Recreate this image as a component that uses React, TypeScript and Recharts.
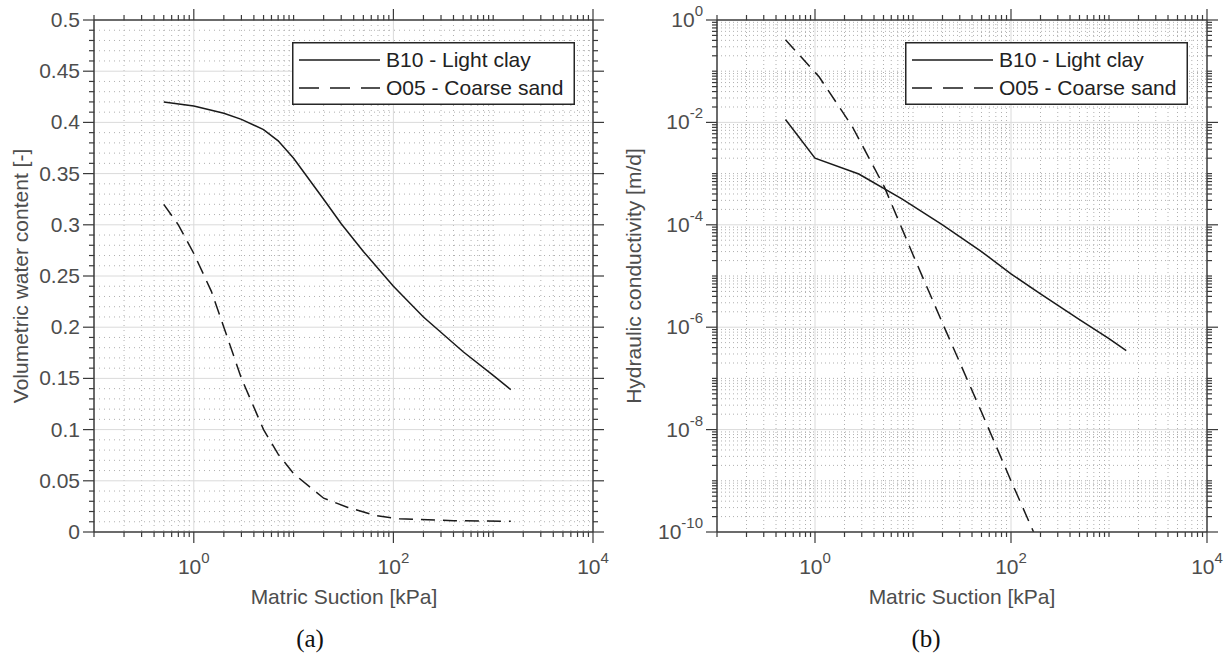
import React from 'react';
import { LineChart, Line, XAxis, YAxis, CartesianGrid, Legend } from 'recharts';

// ---------- data ----------
const seriesNames = ['B10 - Light clay', 'O05 - Coarse sand'];

// (a) water retention curves
const suctionClayWRC = [0.5, 1, 2, 3, 5, 7, 10, 20, 30, 50, 100, 200, 500, 1000, 1500];
const thetaClay = [0.42, 0.416, 0.409, 0.403, 0.393, 0.382, 0.365, 0.325, 0.301, 0.274, 0.24, 0.21, 0.176, 0.153, 0.139];
const suctionSandWRC = [0.5, 0.7, 1, 1.5, 2, 3, 5, 7, 10, 20, 35, 66, 114, 400, 1500];
const thetaSand = [0.32, 0.3, 0.272, 0.235, 0.2, 0.15, 0.1, 0.076, 0.057, 0.033, 0.024, 0.016, 0.013, 0.011, 0.0105];

// (b) hydraulic conductivity curves
const suctionClayK = [0.5, 1, 2.8, 7.7, 20, 50, 100, 200, 500, 1000, 1500];
const kClay = [1.14e-2, 2.0e-3, 9.8e-4, 3.2e-4, 1.0e-4, 3.0e-5, 1.1e-5, 4.5e-6, 1.4e-6, 6e-7, 3.5e-7];
const suctionSandK = [0.5, 1.1, 2.4, 5.1, 10, 20, 50, 100, 170];
const kSand = [0.41, 0.078, 0.0083, 5.5e-4, 2.6e-5, 1.2e-6, 2.2e-8, 1e-9, 1e-10];

// ticks
const xDecades = [0.1, 1, 10, 100, 1000, 10000];
const xLabelExponents = [0, 2, 4];
const leftYMajor = [0, 0.05, 0.1, 0.15, 0.2, 0.25, 0.3, 0.35, 0.4, 0.45, 0.5];
const leftYLabels = ['0', '0.05', '0.1', '0.15', '0.2', '0.25', '0.3', '0.35', '0.4', '0.45', '0.5'];
const rightYDecades = [1e-10, 1e-9, 1e-8, 1e-7, 1e-6, 1e-5, 1e-4, 1e-3, 1e-2, 1e-1, 1];
const rightYLabelExponents = [0, -2, -4, -6, -8, -10];

const xTitle = 'Matric Suction [kPa]';
const leftYTitle = 'Volumetric water content [-]';
const rightYTitle = 'Hydraulic conductivity [m/d]';

// ---------- derived tables ----------
const zip = (xs: number[], ys: number[]) => xs.map((x, i) => ({ x, y: ys[i] }));
const clayWRC = zip(suctionClayWRC, thetaClay);
const sandWRC = zip(suctionSandWRC, thetaSand);
const clayK = zip(suctionClayK, kClay);
const sandK = zip(suctionSandK, kSand);

const minorsOf = (decades: number[]) => {
  const out: number[] = [];
  decades.slice(0, -1).forEach((d) => {
    for (let m = 2; m <= 9; m++) out.push(Number((m * d).toPrecision(6)));
  });
  return out;
};
const xMinor = minorsOf(xDecades);
const xAllTicks = [...xDecades, ...xMinor].sort((a, b) => a - b);
const xMajorVals = xLabelExponents.map((e) => Math.pow(10, e));
const xGridMajor = [1, 100];
const xGridMinor = [...xMinor, 10, 1000];

const leftYMinor: number[] = [];
for (let i = 1; i < 50; i++) if (i % 5 !== 0) leftYMinor.push(i / 100);
const leftYAll = [...leftYMajor, ...leftYMinor].sort((a, b) => a - b);

const rightYMinor = minorsOf(rightYDecades);
const rightYAll = [...rightYDecades, ...rightYMinor].sort((a, b) => a - b);
const rightYMajorVals = rightYLabelExponents.map((e) => Math.pow(10, e));
const rightYGridMajor = [1e-2, 1e-4, 1e-6, 1e-8];
const rightYGridMinor = [...rightYMinor, 1e-1, 1e-3, 1e-5, 1e-7, 1e-9];

// ---------- style ----------
const FONT = '"Liberation Sans", Arial, Helvetica, sans-serif';
const AXIS = '#3a3a3a';
const LABEL = '#4d4d4d';
const LINE = '#1a1a1a';
const FS = 21;
const has = (arr: number[], v: number) => arr.some((a) => Math.abs(a - v) <= Math.abs(a) * 1e-7 + 1e-12);

// ---------- tick renderers ----------
const XTick = (dir: 1 | -1, labels: boolean) => (props: any) => {
  const { x, y, payload } = props;
  const v = payload.value;
  const major = has(xMajorVals, v);
  const len = major ? 11 : 5;
  return (
    <g>
      <line x1={x} y1={y} x2={x} y2={y + dir * len} stroke={AXIS} strokeWidth={1.2} />
      {labels && major && (
        <text x={x} y={y + 42} textAnchor="middle" fontSize={FS} fill={LABEL} fontFamily={FONT}>
          10<tspan dy={-11} fontSize={15}>{Math.round(Math.log10(v))}</tspan>
        </text>
      )}
    </g>
  );
};

const LinYTick = (dir: 1 | -1, labels: boolean) => (props: any) => {
  const { x, y, payload } = props;
  const v = payload.value;
  const idx = leftYMajor.findIndex((m) => Math.abs(m - v) < 1e-9);
  const major = idx >= 0;
  const len = major ? 11 : 5;
  return (
    <g>
      <line x1={x} y1={y} x2={x + dir * len} y2={y} stroke={AXIS} strokeWidth={1.2} />
      {labels && major && (
        <text x={x - 14} y={y + 7} textAnchor="end" fontSize={FS} fill={LABEL} fontFamily={FONT}>
          {leftYLabels[idx]}
        </text>
      )}
    </g>
  );
};

const LogYTick = (dir: 1 | -1, labels: boolean) => (props: any) => {
  const { x, y, payload } = props;
  const v = payload.value;
  const major = has(rightYMajorVals, v);
  const len = major ? 11 : 5;
  return (
    <g>
      <line x1={x} y1={y} x2={x + dir * len} y2={y} stroke={AXIS} strokeWidth={1.2} />
      {labels && major && (
        <text x={x - 14} y={y + 7} textAnchor="end" fontSize={FS} fill={LABEL} fontFamily={FONT}>
          10<tspan dy={-11} fontSize={15}>{String(Math.round(Math.log10(v)))}</tspan>
        </text>
      )}
    </g>
  );
};

// ---------- legend ----------
const LegendBox = () => {
  const w = 283;
  const h = 63;
  return (
    <svg width={w} height={h} style={{ display: 'block' }}>
      <rect x={0.75} y={0.75} width={w - 1.5} height={h - 1.5} fill="#fff" stroke="#262626" strokeWidth={1.5} />
      <line x1={7} x2={88} y1={18} y2={18} stroke={LINE} strokeWidth={1.5} />
      <line x1={7} x2={88} y1={46} y2={46} stroke={LINE} strokeWidth={1.5} strokeDasharray="20 11" />
      <text x={94} y={25} fontSize={FS} fill="#222" fontFamily={FONT}>{seriesNames[0]}</text>
      <text x={94} y={53} fontSize={FS} fill="#222" fontFamily={FONT}>{seriesNames[1]}</text>
    </svg>
  );
};

const W = 615;
const H = 655;
const axisLine = { stroke: AXIS, strokeWidth: 1.5 };

const LeftChart = () => (
  <LineChart width={W} height={H} margin={{ top: 19, left: 93, right: 21, bottom: 122 }}>
    <CartesianGrid horizontal vertical verticalValues={xGridMinor} horizontalValues={leftYMinor}
      stroke="#b0b0b0" strokeDasharray="1 4" />
    <CartesianGrid horizontal vertical verticalValues={xGridMajor} horizontalValues={leftYMajor.slice(1, -1)}
      stroke="#dadada" />
    <XAxis dataKey="x" type="number" scale="log" domain={[0.1, 10000]} allowDataOverflow ticks={xAllTicks}
      interval={0} height={1} tickSize={0} tickMargin={0} axisLine={axisLine}
      tickLine={false} tick={XTick(1, true)} />
    <XAxis xAxisId="top" orientation="top" dataKey="x" type="number" scale="log" domain={[0.1, 10000]}
      allowDataOverflow ticks={xAllTicks} interval={0} height={1} tickSize={0} tickMargin={0}
      axisLine={axisLine} tickLine={false} tick={XTick(-1, false)} />
    <YAxis type="number" domain={[0, 0.5]} allowDataOverflow ticks={leftYAll} interval={0} width={1}
      tickSize={0} tickMargin={0} axisLine={axisLine} tickLine={false}
      tick={LinYTick(-1, true)} />
    <YAxis yAxisId="right" orientation="right" type="number" domain={[0, 0.5]} allowDataOverflow ticks={leftYAll}
      interval={0} width={1} tickSize={0} tickMargin={0} axisLine={axisLine}
      tickLine={false} tick={LinYTick(1, false)} />
    <Line data={clayWRC} dataKey="y" name={seriesNames[0]} type="linear" stroke={LINE} strokeWidth={1.5}
      dot={false} isAnimationActive={false} />
    <Line data={sandWRC} dataKey="y" name={seriesNames[1]} type="linear" stroke={LINE} strokeWidth={1.5}
      strokeDasharray="14 8" dot={false} isAnimationActive={false} />
    <Legend layout="vertical" align="center" verticalAlign="middle" content={LegendBox}
      wrapperStyle={{ left: 292, top: 42, width: 283, height: 63 }} />
  </LineChart>
);

const RightChart = () => (
  <LineChart width={W} height={H} margin={{ top: 19, left: 101, right: 22, bottom: 122 }}>
    <CartesianGrid horizontal vertical verticalValues={xGridMinor} horizontalValues={rightYGridMinor}
      stroke="#b0b0b0" strokeDasharray="1 3" />
    <CartesianGrid horizontal vertical verticalValues={xGridMajor} horizontalValues={rightYGridMajor}
      stroke="#dadada" />
    <XAxis dataKey="x" type="number" scale="log" domain={[0.1, 10000]} allowDataOverflow ticks={xAllTicks}
      interval={0} height={1} tickSize={0} tickMargin={0} axisLine={axisLine}
      tickLine={false} tick={XTick(1, true)} />
    <XAxis xAxisId="top" orientation="top" dataKey="x" type="number" scale="log" domain={[0.1, 10000]}
      allowDataOverflow ticks={xAllTicks} interval={0} height={1} tickSize={0} tickMargin={0}
      axisLine={axisLine} tickLine={false} tick={XTick(-1, false)} />
    <YAxis type="number" scale="log" domain={[1e-10, 1]} allowDataOverflow ticks={rightYAll} interval={0}
      width={1} tickSize={0} tickMargin={0} axisLine={axisLine} tickLine={false}
      tick={LogYTick(-1, true)} />
    <YAxis yAxisId="right" orientation="right" type="number" scale="log" domain={[1e-10, 1]} allowDataOverflow
      ticks={rightYAll} interval={0} width={1} tickSize={0} tickMargin={0}
      axisLine={axisLine} tickLine={false} tick={LogYTick(1, false)} />
    <Line data={clayK} dataKey="y" name={seriesNames[0]} type="linear" stroke={LINE} strokeWidth={1.5}
      dot={false} isAnimationActive={false} />
    <Line data={sandK} dataKey="y" name={seriesNames[1]} type="linear" stroke={LINE} strokeWidth={1.5}
      strokeDasharray="14 8" dot={false} isAnimationActive={false} />
    <Legend layout="vertical" align="center" verticalAlign="middle" content={LegendBox}
      wrapperStyle={{ left: 290, top: 42, width: 283, height: 63 }} />
  </LineChart>
);

export default function App() {
  return (
    <div style={{ position: 'absolute', left: 0, top: 0, width: 1230, height: 655, background: '#fff', overflow: 'hidden' }}>
      <div style={{ position: 'absolute', left: 0, top: 0 }}>
        <LeftChart />
      </div>
      <div style={{ position: 'absolute', left: 615, top: 0 }}>
        <RightChart />
      </div>
      <svg width={1230} height={655} style={{ position: 'absolute', left: 0, top: 0, pointerEvents: 'none' }}>
        <text transform="translate(28,276) rotate(-90)" textAnchor="middle" fontSize={FS} fill={LABEL} fontFamily={FONT}>
          {leftYTitle}
        </text>
        <text transform="translate(641,276) rotate(-90)" textAnchor="middle" fontSize={FS} fill={LABEL} fontFamily={FONT}>
          {rightYTitle}
        </text>
        <text x={344} y={604} textAnchor="middle" fontSize={FS} fill={LABEL} fontFamily={FONT}>{xTitle}</text>
        <text x={962} y={604} textAnchor="middle" fontSize={FS} fill={LABEL} fontFamily={FONT}>{xTitle}</text>
        <text x={310} y={647} textAnchor="middle" fontSize={25} fill="#111" fontFamily='"Liberation Serif", "DejaVu Serif", serif'>(a)</text>
        <text x={926} y={647} textAnchor="middle" fontSize={25} fill="#111" fontFamily='"Liberation Serif", "DejaVu Serif", serif'>(b)</text>
      </svg>
    </div>
  );
}
